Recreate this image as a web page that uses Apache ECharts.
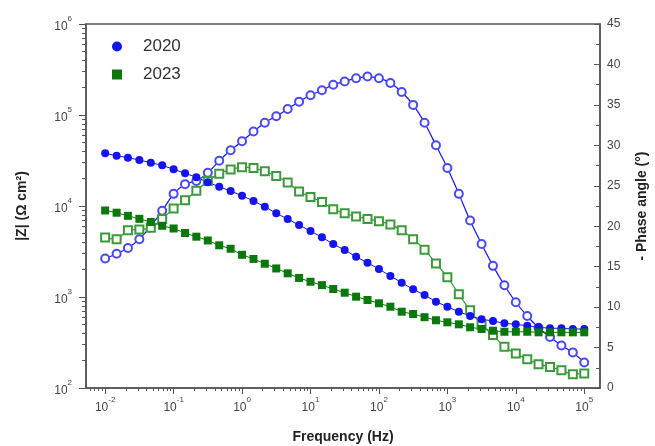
<!DOCTYPE html>
<html>
<head>
<meta charset="utf-8">
<script src="https://cdn.jsdelivr.net/npm/echarts@6/dist/echarts.min.js"></script>
<style>
  html, body { margin: 0; padding: 0; background: #fff; }
  #chart { width: 655px; height: 446px; }
</style>
</head>
<body>
<div id="chart"></div>
<script>
/* 频率 (Hz)，每十倍频 6 点 */
var freq = [0.01, 0.0147, 0.0215, 0.0316, 0.0464, 0.0681,
    0.1, 0.147, 0.215, 0.316, 0.464, 0.681,
    1, 1.47, 2.15, 3.16, 4.64, 6.81,
    10, 14.7, 21.5, 31.6, 46.4, 68.1,
    100, 147, 215, 316, 464, 681,
    1000, 1470, 2150, 3160, 4640, 6810,
    10000, 14700, 21500, 31600, 46400, 68100, 100000];

/* |Z| (Ω cm²) */
var z2020 = [37900, 35700, 34000, 32000, 29900, 28000, 25300, 22900, 20700, 18200, 16300,
    14600, 13000, 11350, 9830, 8310, 7200, 6180, 5310, 4530, 3820, 3280, 2770, 2380,
    2030, 1700, 1437, 1215, 1052, 888, 782, 689, 618, 569, 545, 514, 501, 484, 465,
    453, 453, 445, 445];
var z2023 = [8930, 8440, 7800, 7230, 6670, 6060, 5660, 5050, 4600, 4180, 3700,
    3390, 2910, 2620, 2320, 2060, 1820, 1620, 1470, 1350, 1224, 1115, 1008, 927,
    853, 782, 689, 650, 600, 555, 527, 501, 465, 445, 426, 415, 415, 415, 409,
    409, 409, 409, 409];

/* - 相位角 (°) */
var phase2020 = [16.0, 16.6, 17.3, 18.4, 20.0, 21.9, 24.0, 25.2, 25.6, 26.6, 28.1,
    29.4, 30.5, 31.7, 32.8, 33.6, 34.5, 35.4, 36.2, 36.8, 37.5, 37.9, 38.3, 38.5,
    38.3, 37.7, 36.6, 35.0, 32.8, 30.0, 27.2, 24.0, 20.7, 17.8, 15.1, 12.7, 10.6,
    8.9, 7.45, 6.3, 5.25, 4.4, 3.15];
var phase2023 = [18.6, 18.4, 19.5, 19.6, 19.8, 20.9, 22.2, 23.2, 24.4, 25.6, 26.5,
    27.0, 27.3, 27.2, 26.8, 26.2, 25.4, 24.3, 23.6, 23.0, 22.1, 21.6, 21.2, 20.9,
    20.6, 20.2, 19.5, 18.4, 17.1, 15.4, 13.7, 11.6, 9.6, 7.8, 6.55, 5.1, 4.25,
    3.55, 2.95, 2.6, 2.2, 1.7, 1.8];

/* 刻度 */
var xMajor = [-2, -1, 0, 1, 2, 3, 4, 5];
var yMajor = [2, 3, 4, 5, 6];

var xMin = -2.28, xMax = 5.23;
var blue = '#1414f0', blueLight = '#4a4af5';
var green = '#0a780a', greenLight = '#3c9a3c';
var axisColor = '#555';

function minorTicks(lo, hi) {
    var out = [];
    for (var n = Math.floor(lo); n <= Math.ceil(hi); n++) {
        for (var m = 2; m <= 9; m++) {
            var v = n + Math.log10(m);
            if (v > lo && v < hi) out.push(v);
        }
    }
    return out;
}

function toPairs(ys) {
    var arr = [];
    for (var i = 0; i < freq.length; i++) {
        arr.push([Math.log10(freq[i]), ys[i]]);
    }
    return arr;
}
function toLogPairs(ys) {
    var arr = [];
    for (var i = 0; i < freq.length; i++) {
        arr.push([Math.log10(freq[i]), Math.log10(ys[i])]);
    }
    return arr;
}

var powRich = {
    b: { fontSize: 12, color: '#444', fontFamily: 'Liberation Sans', lineHeight: 18, verticalAlign: 'bottom' },
    s: { fontSize: 8, color: '#444', fontFamily: 'Liberation Sans', lineHeight: 8, verticalAlign: 'top' }
};
function powLabel(v) {
    return '{b|10}{s|' + Math.round(v) + '}';
}

var chart = echarts.init(document.getElementById('chart'));
var option = {
    backgroundColor: '#fff',
    animation: false,
    grid: {
        left: 86, right: 55, top: 24, bottom: 58,
        outerBoundsMode: 'none',
        show: true, borderColor: axisColor, borderWidth: 1.5
    },
    legend: {
        left: 107, top: 33,
        orient: 'vertical',
        itemWidth: 10, itemHeight: 10, itemGap: 11,
        data: [{ name: '2020', icon: 'circle' }, { name: '2023', icon: 'rect' }],
        textStyle: { fontSize: 17, color: '#333', fontFamily: 'Liberation Sans', padding: [0, 0, 0, 16] }
    },
    xAxis: [
        {
            type: 'value', min: xMin, max: xMax,
            name: 'Frequency (Hz)', nameLocation: 'middle', nameGap: 42,
            nameTextStyle: { fontSize: 14, fontWeight: 'bold', color: '#222', fontFamily: 'Liberation Sans' },
            axisLine: { onZero: false, lineStyle: { color: axisColor, width: 1.5 } },
            axisTick: { show: true, customValues: xMajor, length: 6, lineStyle: { color: axisColor } },
            axisLabel: { customValues: xMajor, formatter: powLabel, rich: powRich, margin: 8 },
            splitLine: { show: false }
        },
        {
            type: 'value', min: xMin, max: xMax, position: 'bottom',
            axisLine: { show: false, onZero: false },
            axisTick: { show: true, customValues: minorTicks(xMin, xMax), length: 3, lineStyle: { color: axisColor } },
            axisLabel: { show: false },
            splitLine: { show: false }
        }
    ],
    yAxis: [
        {
            type: 'value', min: 2, max: 6, position: 'left',
            name: '|Z| (\u03A9 cm\u00B2)', nameLocation: 'middle', nameGap: 57,
            nameTextStyle: { fontSize: 14, fontWeight: 'bold', color: '#222', fontFamily: 'Liberation Sans' },
            axisLine: { show: true, onZero: false, lineStyle: { color: axisColor, width: 1.5 } },
            axisTick: { show: true, customValues: yMajor, length: 7, lineStyle: { color: axisColor } },
            axisLabel: { customValues: yMajor, formatter: powLabel, rich: powRich, margin: 14 },
            splitLine: { show: false }
        },
        {
            type: 'value', min: 0, max: 45, interval: 5, position: 'right',
            name: '- Phase angle (\u00B0)', nameLocation: 'middle', nameGap: 35,
            nameTextStyle: { fontSize: 14, fontWeight: 'bold', color: '#222', fontFamily: 'Liberation Sans' },
            axisLine: { show: true, onZero: false, lineStyle: { color: axisColor, width: 1.5 } },
            axisTick: { show: true, inside: true, length: 6, lineStyle: { color: axisColor } },
            minorTick: { show: true, splitNumber: 2, length: 4, lineStyle: { color: axisColor } },
            axisLabel: { fontSize: 12, color: '#444', fontFamily: 'Liberation Sans', margin: 7 },
            splitLine: { show: false }
        },
        {
            type: 'value', min: 2, max: 6, position: 'left',
            axisLine: { show: false, onZero: false },
            axisTick: { show: true, customValues: minorTicks(2, 6), length: 4, lineStyle: { color: axisColor } },
            axisLabel: { show: false },
            splitLine: { show: false }
        }
    ],
    series: [
        {
            name: '2020 phase', type: 'line', yAxisIndex: 1, smooth: 0.3,
            data: toPairs(phase2020),
            symbol: 'emptyCircle', symbolSize: 8, showAllSymbol: true,
            itemStyle: { color: blueLight, borderWidth: 1.3 },
            lineStyle: { color: blue, width: 1.2 }
        },
        {
            name: '2023 phase', type: 'line', yAxisIndex: 1, smooth: 0.3,
            data: toPairs(phase2023),
            symbol: 'emptyRect', symbolSize: 8, showAllSymbol: true,
            itemStyle: { color: greenLight, borderWidth: 1.3 },
            lineStyle: { color: greenLight, width: 1.2 }
        },
        {
            name: '2020', type: 'line', yAxisIndex: 0,
            data: toLogPairs(z2020),
            symbol: 'circle', symbolSize: 8, showAllSymbol: true,
            itemStyle: { color: blue },
            lineStyle: { color: blue, width: 1 }
        },
        {
            name: '2023', type: 'line', yAxisIndex: 0,
            data: toLogPairs(z2023),
            symbol: 'rect', symbolSize: 8, showAllSymbol: true,
            itemStyle: { color: green },
            lineStyle: { color: green, width: 1 }
        }
    ]
};
chart.setOption(option);
</script>
</body>
</html>
